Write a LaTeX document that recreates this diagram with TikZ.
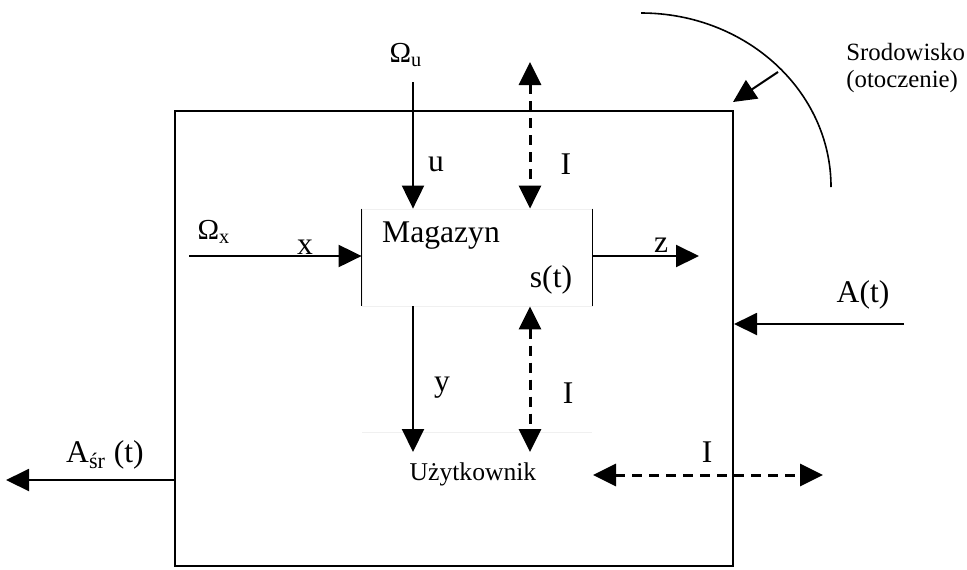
\documentclass[tikz,border=0pt]{standalone}
\usepackage{fontspec}
\setmainfont{Liberation Serif}
\usetikzlibrary{positioning, arrows.meta, calc}

\tikzset{
  flow/.style={-{Triangle[length=11.5pt,width=11pt]}, line width=1pt},
  info/.style={{Triangle[length=11.5pt,width=11pt]}-{Triangle[length=11.5pt,width=11pt]},
    line width=1.5pt, dash pattern=on 5pt off 3.5pt},
  lbl/.style={font=\fontsize{15.8}{18}\selectfont, inner sep=0pt},
  sml/.style={font=\fontsize{12.8}{13.5}\selectfont, inner sep=0pt},
  env/.style={font=\fontsize{12.4}{13.5}\selectfont, inner sep=0pt},
  omg/.style={font=\fontsize{14.5}{16}\selectfont, inner sep=0pt},
}

\begin{document}
\begin{tikzpicture}[x=0.5pt, y=-0.5pt]
                \useasboundingbox (0,0) rectangle (967,569);
                % Nodes
                \node[draw, line width=1pt, minimum width=279pt, minimum height=227.5pt, inner sep=0pt] (sys) at (454,338.5) {};
                \node[draw=gray!12, minimum width=115pt, minimum height=48.5pt, inner sep=0pt] (mag) at (477,257.5) {};
                \draw[line width=0.75pt] (mag.north west) -- (mag.south west);
                \draw[line width=0.75pt] (mag.north east) -- (mag.south east);
                \node[lbl] (magname) at (441,236) {Magazyn};
                \node[lbl] (st) at (551,280) {s(t)};

                \node[sml] (uzyt) at (473,474) {Użytkownik};
                \coordinate (uzytL) at (362,432);
                \coordinate (uzytR) at (592,432);
                \draw[gray!12] (uzytL) -- (uzytR);

                \node[env, align=left, anchor=west] (envlab) at (846,68) {Srodowisko\\(otoczenie)};
                \node[omg] (omu) at (406,55) {Ω\textsubscript{u}};
                \node[omg] (omx) at (214,232) {Ω\textsubscript{x}};

                % Free ends
                \coordinate (ustart) at (413,82);
                \coordinate (yend) at (413,452);
                \coordinate (itop) at (530,62);
                \coordinate (ibot) at (530,452);
                \coordinate (xstart) at (189,256);
                \coordinate (zend) at (699,256);
                \coordinate (astart) at (904,324);
                \coordinate (asrend) at (6,480);
                \coordinate (ileft) at (593,475);
                \coordinate (iright) at (823,475);
                \coordinate (arcpt) at (778,72);
                \coordinate (envtip) at (733,102);

                % Connections
                \draw[flow] (ustart) -- (ustart |- mag.north) ;
                \draw[info] (itop) -- (itop |- mag.north);
                \draw[flow] (xstart) -- (xstart -| mag.west);
                \draw[flow] (zend -| mag.east) -- (zend);
                \draw[flow] (ustart |- mag.south) -- (yend);
                \draw[info] (ibot |- mag.south) -- (ibot);
                \draw[flow] (astart) -- (astart -| sys.east);
                \draw[flow] (asrend -| sys.west) -- (asrend);
                \draw[info] (ileft) -- (iright);
                \draw[line width=0.8pt] (641,13) arc[start angle=270, end angle=360, x radius=190, y radius=174];
                \draw[flow] (arcpt) -- (envtip);

                % Labels
                \node[lbl] (ulab) at (436,164) {u};
                \node[lbl] (itoplab) at (566,164) {I};
                \node[lbl] (xlab) at (305,247) {x};
                \node[lbl] (zlab) at (661,245) {z};
                \node[lbl] (ylab) at (442,388) {y};
                \node[lbl] (ibotlab) at (568,393) {I};
                \node[lbl] (ihorlab) at (707,452) {I};
                \node[lbl] (alab) at (863,295) {A(t)};
                \node[lbl] (asrlab) at (105,455) {A\textsubscript{śr} (t)};
\end{tikzpicture}
\end{document}
